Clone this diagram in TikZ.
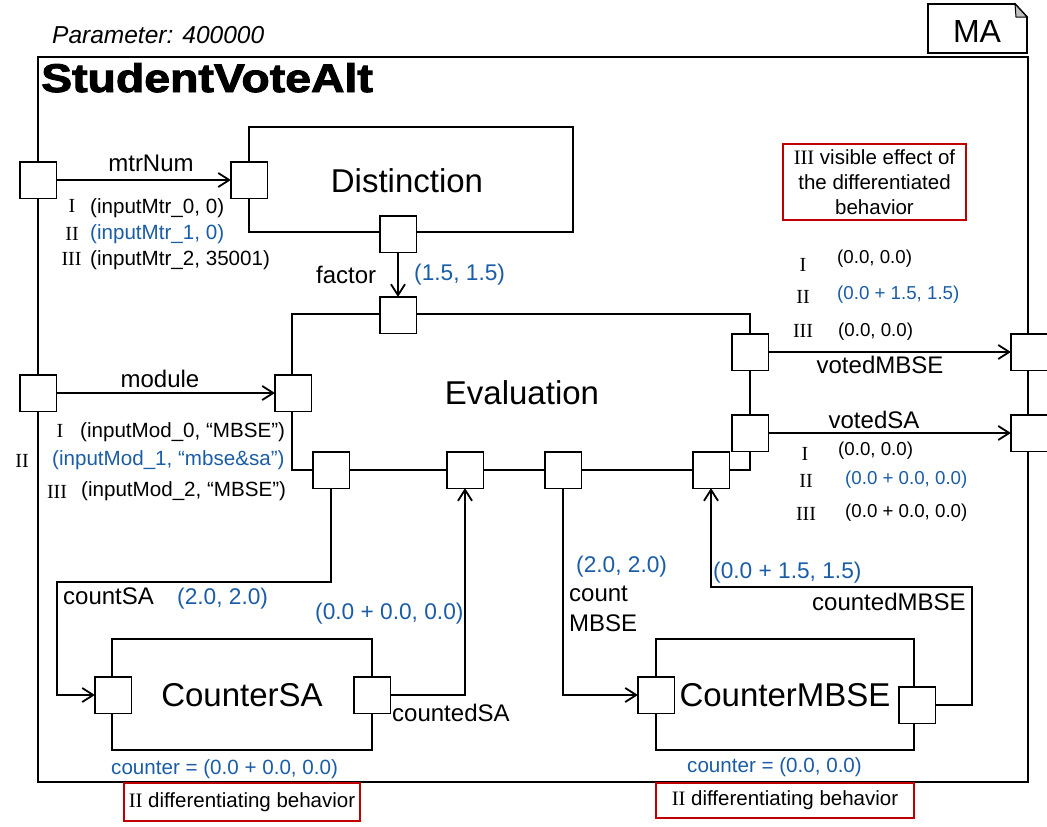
\documentclass[tikz,border=0pt]{standalone}
\usepackage{fontspec}
\setmainfont{Liberation Sans}
\newfontfamily\rmn{Liberation Serif}
\newfontfamily\blackf[FakeBold=2.2]{Liberation Sans Bold}
\usetikzlibrary{arrows.meta}
\definecolor{vblue}{HTML}{1A5DA6}
\definecolor{nred}{HTML}{C00000}
\begin{document}
\begin{tikzpicture}[x=1pt,y=-1pt,
  blk/.style={draw, line width=2pt, inner sep=0},
  port/.style={draw, fill=white, line width=1.2pt, minimum width=35pt, minimum height=35pt, inner sep=0},
  conn/.style={line width=1.8pt},
  arr/.style={conn, -{Straight Barb[length=11pt,width=14pt]}},
  note/.style={draw=nred, line width=2pt, inner sep=0},
  big/.style={font=\fontsize{33}{38}\selectfont, inner sep=0},
  lab/.style={font=\fontsize{24}{28}\selectfont, inner sep=0},
  val/.style={font=\fontsize{22.7}{26}\selectfont, text=vblue, inner sep=0},
  sm/.style={font=\fontsize{20.6}{25}\selectfont, inner sep=0},
  rt/.style={font=\fontsize{18.7}{22}\selectfont, inner sep=0},
  num/.style={font=\rmn\fontsize{20}{24}\selectfont, inner sep=0}
]
\useasboundingbox (0,0) rectangle (1047,827);
% frame and blocks
\node[blk, minimum width=990pt, minimum height=725pt] (frame) at (533,419.5) {};
\node[blk, minimum width=324pt, minimum height=105pt] (dist) at (411,179.5) {};
\node[blk, minimum width=458pt, minimum height=156pt] (eval) at (521,392) {};
\node[blk, minimum width=260pt, minimum height=111pt] (csa) at (242,694.5) {};
\node[blk, minimum width=258pt, minimum height=111pt] (cmb) at (785,694.5) {};
% MA note
\draw[line width=1.8pt, fill=white] (928,4) -- (1015,4) -- (1027,17) -- (1027,53) -- (928,53) -- cycle;
\draw[line width=1pt, fill=black!25] (1015,4) -- (1016,17) -- (1027,17) -- cycle;
\node[big, font=\fontsize{32}{36}\selectfont] (ma) at (977,31) {MA};
% red notes
\node[note, minimum width=183pt, minimum height=76pt, align=center, font=\fontsize{20.5}{25}\selectfont] (nvis) at (874.5,182) {{\rmn III} visible effect of\\the differentiated\\behavior};
\node[note, minimum width=236pt, minimum height=38pt, font=\fontsize{20.5}{25}\selectfont] (ndl) at (242,802) {{\rmn II} differentiating behavior};
\node[note, minimum width=258pt, minimum height=35pt, font=\fontsize{20.5}{25}\selectfont] (ndr) at (785,800) {{\rmn II} differentiating behavior};
% ports
\node[port] (pL1) at (38,180) {};
\node[port] (pD1) at (249,180) {};
\node[port] (pD2) at (398,234) {};
\node[port] (pE1) at (398,315) {};
\node[port] (pL2) at (38,393) {};
\node[port] (pE2) at (293,393) {};
\node[port] (pE3) at (331,470) {};
\node[port] (pE4) at (465,470) {};
\node[port] (pE5) at (563,470) {};
\node[port] (pE6) at (711,470) {};
\node[port] (pE7) at (750,352) {};
\node[port] (pE8) at (750,433) {};
\node[port] (pR1) at (1029,352) {};
\node[port] (pR2) at (1029,433) {};
\node[port] (pS1) at (113,695) {};
\node[port] (pS2) at (372,695) {};
\node[port] (pM1) at (656,695) {};
\node[port] (pM2) at (917,705) {};
% connectors
\coordinate (k1) at (57,582);
\coordinate (k2) at (972,705);
\coordinate (k3) at (972,587);
\draw[arr] (pL1.east) -- (pD1.west);
\draw[arr] (pD2.south) -- (pE1.north);
\draw[arr] (pL2.east) -- (pE2.west);
\draw[arr] (pE7.east) -- (pR1.west);
\draw[arr] (pE8.east) -- (pR2.west);
\draw[arr] (pE3.south) |- (k1) |- (pS1.west);
\draw[arr] (pS2.east) -| (pE4.south);
\draw[arr] (pE5.south) |- (pM1.west);
\draw[arr] (pM2.east) -- (k2) -- (k3) -| (pE6.south);
% redraw ports on top
\foreach \p in {pL1,pD1,pD2,pE1,pL2,pE2,pE3,pE4,pE5,pE6,pE7,pE8,pR1,pR2,pS1,pS2,pM1,pM2}
  \draw[fill=white, line width=1.2pt] (\p.north west) rectangle (\p.south east);
% titles
\node[inner sep=0, anchor=base west, font=\blackf\fontsize{40}{44}\selectfont] (title) at (41,92) {\scalebox{1.16}[1]{StudentVoteAlt}};
\node[inner sep=0, anchor=west, font=\itshape\fontsize{24.5}{28}\selectfont] (param) at (52,35) {Parameter: 400000};
% block names
\node[big] (tdist) at (407,181) {Distinction};
\node[big] (teval) at (522,393) {Evaluation};
\node[big] (tcsa) at (242,695) {CounterSA};
\node[big] (tcmb) at (785,695) {CounterMBSE};
% left labels
\node[lab] (lmtr) at (151,163) {mtrNum};
\node[num] (r1) at (72,206) {I};
\node[sm, anchor=west] (v1) at (90,208) {(inputMtr\_0, 0)};
\node[num] (r2) at (72,234) {II};
\node[sm, anchor=west, text=vblue] (v2) at (90,234) {(inputMtr\_1, 0)};
\node[num] (r3) at (71.5,259) {III};
\node[sm, anchor=west] (v3) at (90,260) {(inputMtr\_2, 35001)};
\node[lab, anchor=west] (lfac) at (316,275) {factor};
\node[val, anchor=west] (vfac) at (414,275) {(1.5, 1.5)};
\node[lab] (lmod) at (160,379) {module};
\node[num] (r4) at (60,431) {I};
\node[sm, anchor=west] (v4) at (80,432) {(inputMod\_0, “MBSE”)};
\node[num] (r5) at (22,461) {II};
\node[sm, anchor=west, text=vblue] (v5) at (52,460) {(inputMod\_1, “mbse\&sa”)};
\node[num] (r6) at (57,492) {III};
\node[sm, anchor=west] (v6) at (81,491) {(inputMod\_2, “MBSE”)};
% right labels
\node[num] (r7) at (803,265) {I};
\node[rt, anchor=west] (v7) at (837,259) {(0.0, 0.0)};
\node[num] (r8) at (803,297) {II};
\node[rt, anchor=west, text=vblue] (v8) at (837,295) {(0.0 + 1.5, 1.5)};
\node[num] (r9) at (803,331) {III};
\node[rt, anchor=west] (v9) at (838,332) {(0.0, 0.0)};
\node[lab] (lvm) at (880,365) {votedMBSE};
\node[lab] (lvs) at (874,420) {votedSA};
\node[num] (r10) at (805,454) {I};
\node[rt, anchor=west] (v10) at (838,451) {(0.0, 0.0)};
\node[num] (r11) at (806,481) {II};
\node[rt, anchor=west, text=vblue] (v11) at (845,480) {(0.0 + 0.0, 0.0)};
\node[num] (r12) at (806,514) {III};
\node[rt, anchor=west] (v12) at (845,513) {(0.0 + 0.0, 0.0)};
% bottom labels
\node[lab, anchor=west] (lcsa) at (63,596) {countSA};
\node[val, anchor=west] (vcsa) at (177,599) {(2.0, 2.0)};
\node[val, anchor=west] (vcdsa) at (315,614) {(0.0 + 0.0, 0.0)};
\node[lab, anchor=west] (lcdsa) at (392,713) {countedSA};
\node[sm, anchor=west, text=vblue] (ccsa) at (111,769) {counter = (0.0 + 0.0, 0.0)};
\node[val, anchor=west] (vcmb) at (576,567) {(2.0, 2.0)};
\node[lab, anchor=west] (lcmb1) at (569,594) {count};
\node[lab, anchor=west] (lcmb2) at (569,623) {MBSE};
\node[val, anchor=west] (vcdmb) at (713,573) {(0.0 + 1.5, 1.5)};
\node[lab, anchor=west] (lcdmb) at (812,602) {countedMBSE};
\node[sm, anchor=west, text=vblue] (ccmb) at (687,767) {counter = (0.0, 0.0)};
\end{tikzpicture}
\end{document}
